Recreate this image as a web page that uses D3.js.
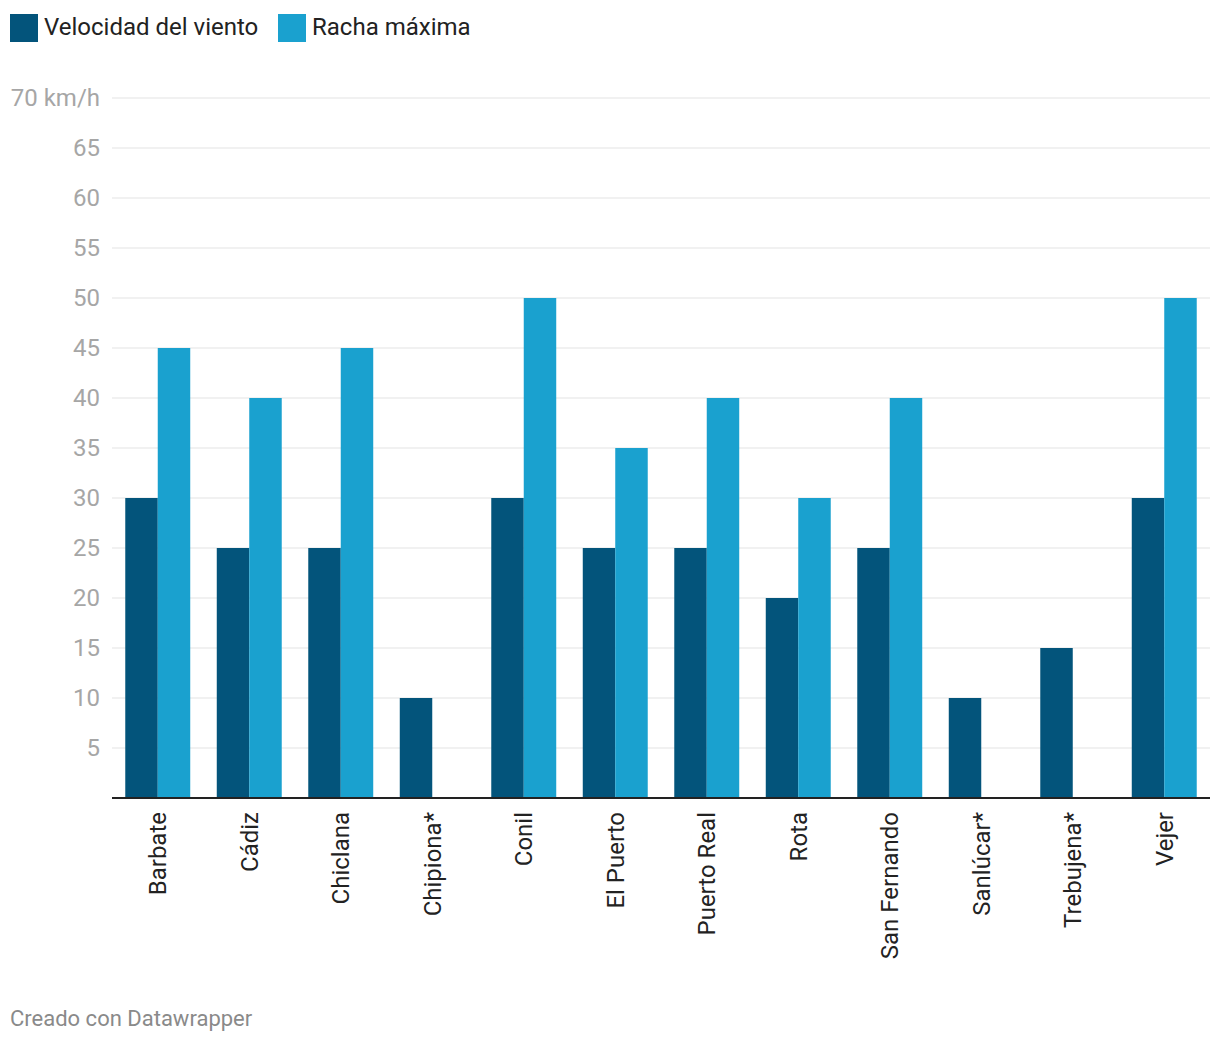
<!DOCTYPE html>
<html>
<head>
<meta charset="utf-8">
<script src="https://cdn.jsdelivr.net/npm/d3@7"></script>
<style>
  body { margin: 0; background: #fff; font-family: Roboto, sans-serif; }
</style>
</head>
<body>
<div id="chart"></div>
<script>
const categories = ['Barbate', 'Cádiz', 'Chiclana', 'Chipiona*', 'Conil', 'El Puerto', 'Puerto Real', 'Rota', 'San Fernando', 'Sanlúcar*', 'Trebujena*', 'Vejer'];
const velocidad = [30, 25, 25, 10, 30, 25, 25, 20, 25, 10, 15, 30];
const racha = [45, 40, 45, null, 50, 35, 40, 30, 40, null, null, 50];
const seriesNames = ['Velocidad del viento', 'Racha máxima'];
const seriesColors = ['#03547b', '#1aa1cf'];
const yTicks = [5, 10, 15, 20, 25, 30, 35, 40, 45, 50, 55, 60, 65, 70];

const W = 1220, H = 1042;
const svg = d3.select('#chart').append('svg')
    .attr('width', W).attr('height', H)
    .style('font-family', 'Roboto, sans-serif');

const x = d3.scaleBand().domain(categories).range([112, 1210])
    .paddingInner(0.29).paddingOuter(0.145);
const xs = d3.scaleBand().domain([0, 1]).range([0, x.bandwidth()]);
const y = d3.scaleLinear().domain([0, 70]).range([798, 98]);

// grid + y labels
const g = svg.append('g');
g.selectAll('line.grid')
    .data(yTicks)
    .join('line')
    .classed('grid', true)
    .attr('x1', 112).attr('x2', 1210)
    .attr('y1', d => y(d)).attr('y2', d => y(d))
    .attr('stroke', '#e3e3e3').attr('stroke-width', 1);

g.selectAll('text.ylab')
    .data(yTicks)
    .join('text')
    .classed('ylab', true)
    .attr('x', 100)
    .attr('y', d => y(d))
    .attr('dy', '0.35em')
    .attr('text-anchor', 'end')
    .attr('fill', '#a6a6a6')
    .style('font-size', '24px')
    .text(d => d === 70 ? '70 km/h' : d);

// bars
const rows = categories.map((c, i) => ({ cat: c, vals: [velocidad[i], racha[i]] }));
const groups = svg.append('g').selectAll('g')
    .data(rows)
    .join('g')
    .attr('transform', d => `translate(${x(d.cat)},0)`);

groups.selectAll('rect')
    .data(d => d.vals.map((v, k) => ({ v, k })).filter(e => e.v != null))
    .join('rect')
    .attr('x', d => xs(d.k))
    .attr('width', xs.bandwidth())
    .attr('y', d => y(d.v))
    .attr('height', d => y(0) - y(d.v))
    .attr('fill', d => seriesColors[d.k]);

// baseline
svg.append('line')
    .attr('x1', 112).attr('x2', 1210)
    .attr('y1', y(0)).attr('y2', y(0))
    .attr('stroke', '#222').attr('stroke-width', 2);

// x labels
svg.append('g').selectAll('text')
    .data(categories)
    .join('text')
    .attr('transform', d => `translate(${x(d) + x.bandwidth() / 2},812) rotate(-90)`)
    .attr('dy', '0.35em')
    .attr('text-anchor', 'end')
    .attr('fill', '#222')
    .style('font-size', '24px')
    .text(d => d);

// legend
const legendX = [10, 278];
const leg = svg.append('g').selectAll('g')
    .data(seriesNames)
    .join('g')
    .attr('transform', (d, i) => `translate(${legendX[i]},14)`);
leg.append('rect')
    .attr('width', 28).attr('height', 28)
    .attr('fill', (d, i) => seriesColors[i]);
leg.append('text')
    .attr('x', 34).attr('y', 13)
    .attr('dy', '0.35em')
    .attr('fill', '#222')
    .style('font-size', '24px')
    .text(d => d);

// footer
svg.append('text')
    .attr('x', 10).attr('y', 1026)
    .attr('fill', '#8a8a8a')
    .style('font-size', '22px')
    .text('Creado con Datawrapper');
</script>
</body>
</html>
